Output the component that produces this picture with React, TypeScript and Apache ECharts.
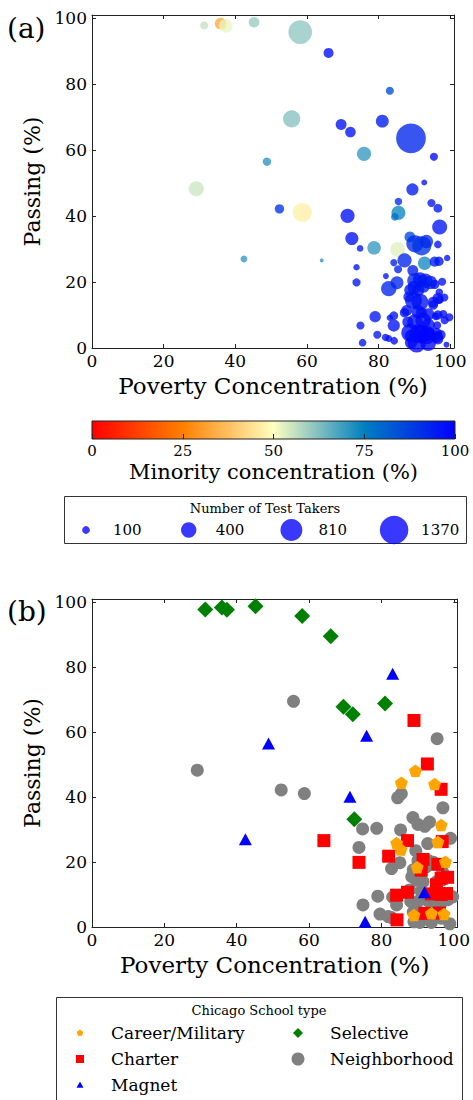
import React, { useEffect, useRef } from 'react';
import * as echarts from 'echarts';

// Each school: [poverty %, passing %, minority %, number of test takers]
type School = [number, number, number, number];

const SELECTIVE: School[] = [
  [31.3, 97.8, 56, 110], [35.9, 98.4, 33, 230], [37.3, 97.7, 52, 310], [45.2, 98.8, 60, 190],
  [58.1, 95.8, 61, 950], [66.0, 89.5, 98, 170], [69.5, 67.8, 97, 200], [72.1, 65.5, 97, 190],
  [81.0, 68.8, 95, 280], [72.5, 33.2, 97, 290],
];

const MAGNET: School[] = [
  [42.4, 27.0, 70, 80], [48.8, 56.5, 71, 120], [71.3, 40.1, 97, 340], [75.9, 58.9, 70, 340],
  [83.1, 78.0, 85, 110], [75.5, 1.6, 96, 100], [91.9, 10.7, 97, 200],
];

const CHARTER: School[] = [
  [64.1, 26.6, 72, 25], [73.8, 19.9, 96, 110], [82.0, 21.8, 96, 60], [87.2, 26.6, 93, 340],
  [89.0, 63.6, 93, 1500], [92.7, 50.2, 96, 60], [96.5, 42.4, 96, 130], [96.8, 26.3, 96, 150],
  [84.2, 9.8, 96, 130], [87.2, 10.7, 97, 150], [91.5, 20.8, 96, 340], [91.0, 17.5, 96, 250],
  [95.6, 19.3, 97, 150], [96.5, 15.0, 97, 200], [98.3, 15.3, 97, 110], [95.2, 13.0, 97, 150],
  [93.8, 10.2, 98, 250], [96.5, 10.0, 98, 150], [98.0, 10.3, 98, 110], [84.3, 2.2, 98, 100],
  [92.0, 4.2, 99, 500], [96.0, 4.3, 98, 250],
];

const CAREER: School[] = [
  [89.4, 48.1, 95, 250], [85.5, 44.4, 92, 95], [94.7, 44.0, 96, 110], [96.5, 31.4, 96, 100],
  [84.2, 25.9, 94, 85], [85.4, 23.9, 94, 110], [95.6, 26.2, 95, 170], [97.7, 20.1, 97, 110],
  [89.9, 18.4, 96, 300], [89.0, 3.7, 98, 250], [93.8, 4.2, 99, 300], [97.3, 4.0, 98, 160],
];

const NEIGHBORHOOD: School[] = [
  [29.1, 48.3, 55, 390], [55.7, 69.5, 62, 500], [52.3, 42.2, 90, 150], [58.7, 41.1, 47, 620],
  [95.4, 58.0, 98, 110], [85.5, 41.0, 74, 330], [84.5, 39.8, 78, 100], [97.0, 36.7, 96, 380],
  [74.8, 30.2, 96, 75], [78.7, 30.4, 70, 310], [73.8, 24.5, 96, 70], [85.3, 29.9, 53, 380],
  [88.7, 33.7, 85, 200], [90.1, 31.6, 92, 500], [92.0, 31.0, 90, 620], [93.3, 32.3, 92, 300],
  [92.8, 25.7, 73, 300], [99.1, 27.3, 97, 70], [82.8, 18.0, 93, 400], [85.1, 19.8, 93, 280],
  [89.5, 23.5, 95, 200], [74.9, 6.8, 96, 110], [79.0, 9.5, 96, 220], [79.6, 4.0, 96, 110],
  [81.9, 3.2, 97, 90], [84.2, 6.8, 97, 250], [83.1, 9.2, 97, 70], [82.8, 2.9, 97, 80],
  [89.0, 1.6, 98, 250], [88.1, 7.9, 97, 200], [99.7, 9.3, 98, 110], [96.5, 2.7, 98, 200],
  [90.1, 20.4, 93, 400], [93.0, 20.4, 94, 350], [94.4, 19.9, 95, 300], [88.8, 17.6, 95, 250],
  [96.9, 16.9, 97, 100], [89.7, 14.4, 96, 480], [91.5, 13.9, 97, 480], [95.2, 13.9, 97, 200],
  [97.0, 14.6, 97, 110], [87.8, 11.4, 97, 200], [91.0, 11.0, 97, 300], [90.1, 7.9, 98, 400],
  [92.4, 8.4, 98, 400], [93.8, 6.9, 98, 300], [96.3, 6.9, 98, 110], [98.4, 8.4, 98, 110],
  [95.9, 9.6, 98, 100], [88.8, 4.6, 98, 550], [91.1, 4.3, 99, 600], [93.4, 3.9, 98, 550],
  [90.6, 1.4, 99, 550], [93.8, 1.4, 99, 400], [96.2, 3.4, 98, 250], [98.9, 1.0, 98, 60],
  [92.5, 18.6, 95, 250], [88.4, 15.5, 96, 200],
];

const AXIS_TICKS = [0, 20, 40, 60, 80, 100];
const COLORBAR_TICKS = [0, 25, 50, 75, 100];
const TAKER_LEGEND = [100, 400, 810, 1370];
const COLOR_STOPS = ['#ff0000', '#ff8000', '#ffffc0', '#0080c0', '#0000ff'];

const FONT = 'DejaVu Serif';
const AXIS_COLOR = '#222';
const BUBBLE_K = 0.77;
const bubble = (n: number) => BUBBLE_K * Math.sqrt(n);

const PENTAGON = 'path://M0,-10 L9.511,-3.09 L5.878,8.09 L-5.878,8.09 L-9.511,-3.09 Z';

const TYPES = [
  { name: 'Career/Military', data: CAREER, color: '#ffa500', symbol: PENTAGON, size: [13, 12.5], legend: 'pentagon', legendSize: 7 },
  { name: 'Charter', data: CHARTER, color: '#ff0000', symbol: 'rect', size: 13, legend: 'rect', legendSize: 8 },
  { name: 'Magnet', data: MAGNET, color: '#0000ff', symbol: 'triangle', size: [13, 12], legend: 'triangle', legendSize: 7 },
  { name: 'Selective', data: SELECTIVE, color: '#008000', symbol: 'diamond', size: 16, legend: 'diamond', legendSize: 10 },
  { name: 'Neighborhood', data: NEIGHBORHOOD, color: '#808080', symbol: 'circle', size: 13, legend: 'circle', legendSize: 13 },
];
const DRAW_ORDER = ['Neighborhood', 'Charter', 'Career/Military', 'Magnet', 'Selective'];

const GRID_A = { left: 92, top: 15, width: 362, height: 333 };
const GRID_CB = { left: 92, top: 421, width: 363, height: 18 };
const GRID_B = { left: 92, top: 599, width: 367, height: 328 };

function frameAxis(kind: 'x' | 'y', gridIndex: number, position: string, labels: boolean, name?: string, nameGap?: number) {
  return {
    type: 'value', gridIndex, position, min: 0, max: 101, interval: 20,
    name, nameLocation: 'middle', nameGap,
    nameTextStyle: { fontFamily: FONT, fontSize: kind === 'x' ? 23 : 22, color: '#000' },
    axisLine: { show: true, onZero: false, lineStyle: { color: AXIS_COLOR, width: 1 } },
    axisTick: { show: true, inside: true, length: 4, lineStyle: { color: AXIS_COLOR, width: 1 } },
    axisLabel: {
      show: labels, margin: kind === 'x' ? 4 : 5, fontFamily: FONT, fontSize: 17, color: '#000',
      formatter: (v: number) => (AXIS_TICKS.includes(v) ? String(v) : ''),
    },
    splitLine: { show: false },
  };
}

function text(t: string, x: number, y: number, size: number, align = 'left') {
  return { type: 'text', x, y, z: 20, style: { text: t, fontFamily: FONT, fontSize: size, fill: '#000', align, verticalAlign: 'middle' } };
}

function legendMarker(kind: string, cx: number, cy: number, s: number, color: string) {
  const h = s / 2;
  if (kind === 'circle') return { type: 'circle', z: 20, shape: { cx, cy, r: h }, style: { fill: color } };
  if (kind === 'rect') return { type: 'rect', z: 20, shape: { x: cx - h, y: cy - h, width: s, height: s }, style: { fill: color } };
  let pts: number[][] = [];
  if (kind === 'triangle') pts = [[cx, cy - h], [cx + h, cy + h * 0.8], [cx - h, cy + h * 0.8]];
  else if (kind === 'diamond') pts = [[cx, cy - h], [cx + h, cy], [cx, cy + h], [cx - h, cy]];
  else {
    for (let k = 0; k < 5; k++) {
      const a = (-90 + 72 * k) * Math.PI / 180;
      pts.push([cx + h * Math.cos(a), cy + h * Math.sin(a)]);
    }
  }
  return { type: 'polygon', z: 20, shape: { points: pts }, style: { fill: color } };
}

function buildOption() {
  const allSchools = [...NEIGHBORHOOD, ...CHARTER, ...CAREER, ...MAGNET, ...SELECTIVE];

  const graphics: any[] = [];
  graphics.push(text('(a)', 7, 28, 28));
  graphics.push(text('(b)', 7, 611, 28));

  // colorbar
  graphics.push({
    type: 'rect', z: 1,
    shape: { x: GRID_CB.left, y: GRID_CB.top, width: GRID_CB.width, height: GRID_CB.height },
    style: {
      fill: new echarts.graphic.LinearGradient(0, 0, 1, 0,
        COLOR_STOPS.map((c, i) => ({ offset: i / (COLOR_STOPS.length - 1), color: c }))),
      stroke: AXIS_COLOR, lineWidth: 1,
    },
  });

  // legend (a): test takers
  graphics.push({ type: 'rect', z: 19, shape: { x: 64.5, y: 496.5, width: 402, height: 47 }, style: { fill: '#fff', stroke: '#333', lineWidth: 1 } });
  graphics.push(text('Number of Test Takers', 265, 508, 13, 'center'));
  TAKER_LEGEND.forEach((n, i) => {
    const cx = 86 + i * 102.7;
    graphics.push({ type: 'circle', z: 20, shape: { cx, cy: 530, r: bubble(n) / 2 }, style: { fill: '#0000ff', opacity: 0.78 } });
    graphics.push(text(String(n), cx + 27, 530, 15));
  });

  // legend (b): school type
  graphics.push({ type: 'rect', z: 19, shape: { x: 56.5, y: 997.5, width: 406, height: 120 }, style: { fill: '#fff', stroke: '#333', lineWidth: 1 } });
  graphics.push(text('Chicago School type', 259, 1010, 13, 'center'));
  TYPES.forEach((t, i) => {
    const col = Math.floor(i / 3);
    const row = i % 3;
    const mx = col === 0 ? 80 : 298;
    const tx = col === 0 ? 111 : 330;
    const y = 1033 + row * 26;
    graphics.push(legendMarker(t.legend, mx, y, t.legendSize, t.color));
    graphics.push(text(t.name, tx, y, 17));
  });

  const typeSeries = DRAW_ORDER.map((name) => {
    const t = TYPES.find((x) => x.name === name)!;
    return {
      type: 'scatter', name, xAxisIndex: 3, yAxisIndex: 3,
      symbol: t.symbol, symbolSize: t.size,
      itemStyle: { color: t.color, opacity: 1 },
      data: t.data.map((d) => [d[0], d[1]]),
      silent: true, emphasis: { disabled: true },
    };
  });

  return {
    animation: false,
    backgroundColor: '#fff',
    textStyle: { fontFamily: FONT },
    grid: [
      { ...GRID_A, containLabel: false },
      { ...GRID_CB, containLabel: false },
      { ...GRID_B, containLabel: false },
    ],
    xAxis: [
      frameAxis('x', 0, 'bottom', true, 'Poverty Concentration (%)', 26),
      frameAxis('x', 0, 'top', false),
      {
        type: 'value', gridIndex: 1, position: 'bottom', min: 0, max: 100, interval: 25, z: 10,
        name: 'Minority concentration (%)', nameLocation: 'middle', nameGap: 22,
        nameTextStyle: { fontFamily: FONT, fontSize: 21, color: '#000' },
        axisLine: { show: false },
        axisTick: { show: true, inside: true, length: 5, lineStyle: { color: AXIS_COLOR } },
        axisLabel: { margin: 4, fontFamily: FONT, fontSize: 15, color: '#000', formatter: (v: number) => (COLORBAR_TICKS.includes(v) ? String(v) : '') },
        splitLine: { show: false },
      },
      frameAxis('x', 2, 'bottom', true, 'Poverty Concentration (%)', 26),
      frameAxis('x', 2, 'top', false),
    ],
    yAxis: [
      frameAxis('y', 0, 'left', true, 'Passing (%)', 44),
      frameAxis('y', 0, 'right', false),
      { type: 'value', gridIndex: 1, min: 0, max: 1, show: false },
      frameAxis('y', 2, 'left', true, 'Passing (%)', 44),
      frameAxis('y', 2, 'right', false),
    ],
    visualMap: [{
      type: 'continuous', show: false, min: 0, max: 100, dimension: 2, seriesIndex: 0,
      inRange: { color: COLOR_STOPS },
    }],
    series: [
      {
        type: 'scatter', name: 'Schools', xAxisIndex: 0, yAxisIndex: 0,
        symbol: 'circle',
        symbolSize: (val: number[]) => bubble(val[3]),
        itemStyle: { opacity: 0.78 },
        data: allSchools,
        silent: true, emphasis: { disabled: true },
      },
      ...typeSeries,
    ],
    graphic: graphics,
  };
}

export default function App() {
  const ref = useRef<HTMLDivElement>(null);
  useEffect(() => {
    if (!ref.current) return;
    const chart = echarts.init(ref.current, null, { renderer: 'svg' });
    chart.setOption(buildOption() as any);
    return () => chart.dispose();
  }, []);
  return <div ref={ref} style={{ position: 'absolute', left: 0, top: 0, width: 473, height: 1100 }} />;
}
